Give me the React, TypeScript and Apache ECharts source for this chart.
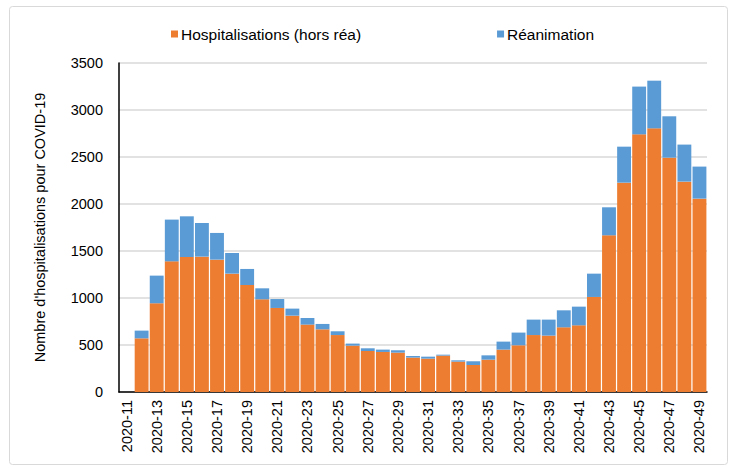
import React, { useEffect, useRef } from "react";
import * as echarts from "echarts";

const weeks: string[] = [];
for (let w = 11; w <= 49; w++) weeks.push(`2020-${w}`);

const hospHorsRea: (number | null)[] = [
  null, 571, 944, 1390, 1436, 1440, 1408, 1259, 1138, 986, 894, 812, 717, 667, 606, 493,
  436, 426, 419, 366, 355, 387, 323, 287, 344, 451, 497, 606, 600, 688, 709, 1011,
  1667, 2227, 2741, 2805, 2493, 2238, 2057,
];

const reanimation: (number | null)[] = [
  null, 82, 294, 444, 433, 358, 284, 220, 171, 117, 95, 75, 70, 57, 40, 22,
  29, 25, 25, 17, 21, 10, 14, 40, 46, 85, 135, 164, 170, 181, 199, 248,
  298, 383, 508, 507, 440, 394, 341,
];

const FONT = "'Liberation Sans', Arial, sans-serif";

export default function App() {
  const ref = useRef<HTMLDivElement>(null);
  useEffect(() => {
    if (!ref.current) return;
    const chart = echarts.init(ref.current, undefined, { renderer: "svg" });
    chart.setOption({
      animation: false,
      textStyle: { fontFamily: FONT },
      graphic: [
        {
          type: "rect",
          shape: { x: 9.5, y: 6.5, width: 718, height: 458, r: 3 },
          style: { fill: "none", stroke: "#d9d9d9", lineWidth: 1 },
          silent: true,
        },
      ],
      legend: {
        top: 21,
        left: 166,
        itemWidth: 7,
        itemHeight: 7,
        itemGap: 136,
        icon: "rect",
        textStyle: { fontFamily: FONT, fontSize: 15.5, color: "#000", padding: [0, 0, 0, -2] },
        data: ["Hospitalisations (hors réa)", "Réanimation"],
      },
      grid: { left: 119, right: 31, top: 63, bottom: 79 },
      xAxis: {
        type: "category",
        data: weeks,
        axisLine: { lineStyle: { color: "#000", width: 1.5 } },
        axisTick: { show: false },
        axisLabel: {
          interval: 1,
          rotate: 90,
          fontSize: 14.5,
          color: "#000",
          fontFamily: FONT,
          margin: 8,
        },
      },
      yAxis: {
        type: "value",
        min: 0,
        max: 3500,
        interval: 500,
        name: "Nombre d'hospitalisations pour COVID-19",
        nameLocation: "middle",
        nameGap: 72,
        nameTextStyle: { fontSize: 14.5, color: "#000", fontFamily: FONT },
        axisLine: { show: true, lineStyle: { color: "#000", width: 1.5 } },
        axisTick: { show: false },
        axisLabel: {
          fontSize: 14.5,
          color: "#000",
          fontFamily: FONT,
          margin: 16,
          formatter: (v: number) => String(v),
        },
        splitLine: { lineStyle: { color: "#d9d9d9", width: 1.5 } },
      },
      series: [
        {
          name: "Hospitalisations (hors réa)",
          type: "bar",
          stack: "total",
          data: hospHorsRea,
          barCategoryGap: "8%",
          itemStyle: { color: "#ED7D31" },
        },
        {
          name: "Réanimation",
          type: "bar",
          stack: "total",
          data: reanimation,
          barCategoryGap: "8%",
          itemStyle: { color: "#5B9BD5" },
        },
      ],
    });
    return () => chart.dispose();
  }, []);
  return (
    <div
      ref={ref}
      style={{ position: "fixed", left: 0, top: 0, width: 738, height: 471, background: "#fff" }}
    />
  );
}
